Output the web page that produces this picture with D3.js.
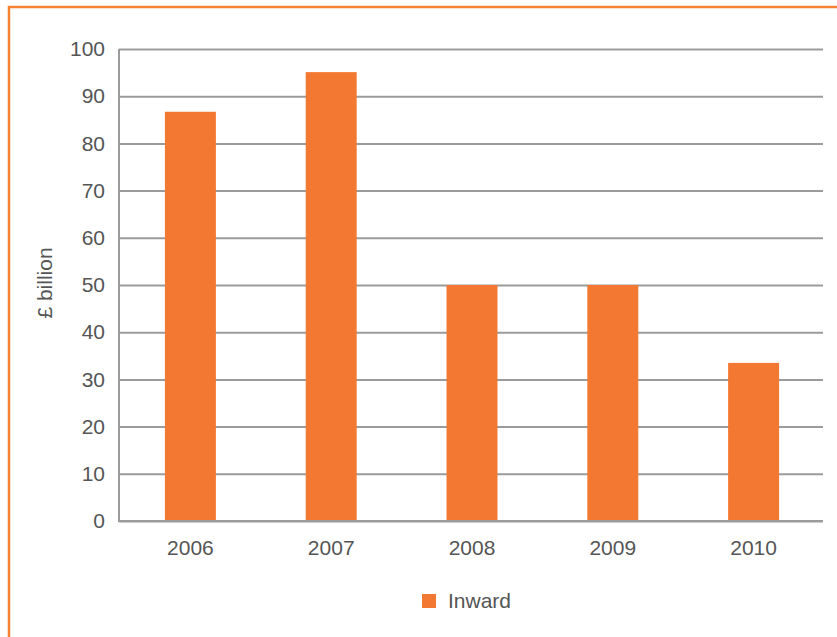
<!DOCTYPE html>
<html>
<head>
<meta charset="utf-8">
<script src="https://cdn.jsdelivr.net/npm/d3@7"></script>
<style>
  body { margin: 0; background: #fff; }
  svg text { font-family: "Liberation Sans", Arial, sans-serif; fill: #555; }
</style>
</head>
<body>
<div id="chart"></div>
<script>
const years = ["2006", "2007", "2008", "2009", "2010"]
const inward = [86.7, 95.1, 50, 50, 33.5]
const yTicks = [0, 10, 20, 30, 40, 50, 60, 70, 80, 90, 100]
const seriesName = "Inward"

const width = 837, height = 637
const margin = ({top: 49, right: 14, bottom: 116, left: 119})
const barColor = "#f37831"
const gridColor = "#9b9b9b"
const fontSize = 21

const svg = d3.select("#chart").append("svg")
    .attr("width", width).attr("height", height)

// frame (only top and left edges show in the picture)
svg.append("rect")
    .attr("x", 9).attr("y", 7)
    .attr("width", width + 20).attr("height", height + 20)
    .attr("fill", "none")
    .attr("stroke", "#f58233")
    .attr("stroke-width", 2.5)

const x = d3.scaleBand()
    .domain(years)
    .range([margin.left, width - margin.right])

const y = d3.scaleLinear()
    .domain([0, 100])
    .range([height - margin.bottom, margin.top])

// gridlines + y axis
const yAxis = g => g
    .attr("transform", `translate(${margin.left},0)`)
    .call(d3.axisLeft(y).tickValues(yTicks).tickSize(-(width - margin.left - margin.right)).tickPadding(14))
    .call(g => g.select(".domain").remove())
    .call(g => g.selectAll(".tick line").attr("stroke", gridColor).attr("stroke-width", 2))
    .call(g => g.selectAll(".tick text").attr("font-size", fontSize).attr("fill", "#555"))

svg.append("g").call(yAxis)

// left axis line
svg.append("line")
    .attr("x1", margin.left).attr("x2", margin.left)
    .attr("y1", y(100)).attr("y2", y(0) + 1)
    .attr("stroke", gridColor).attr("stroke-width", 2)

// bars
const barW = x.bandwidth() * 0.362
svg.append("g")
  .selectAll("rect")
  .data(years)
  .join("rect")
    .attr("x", (d) => x(d) + x.bandwidth() / 2 - barW / 2 + 1)
    .attr("y", (d, i) => y(inward[i]))
    .attr("width", barW)
    .attr("height", (d, i) => y(0) - y(inward[i]))
    .attr("fill", barColor)

// baseline drawn over bars
svg.append("line")
    .attr("x1", margin.left).attr("x2", width - margin.right)
    .attr("y1", y(0)).attr("y2", y(0))
    .attr("stroke", gridColor).attr("stroke-width", 2)

// x labels
const xAxis = g => g
    .attr("transform", `translate(1,${y(0)})`)
    .call(d3.axisBottom(x).tickSize(0).tickPadding(19))
    .call(g => g.select(".domain").remove())
    .call(g => g.selectAll(".tick text").attr("font-size", fontSize).attr("fill", "#555"))

svg.append("g").call(xAxis)

// y title
svg.append("text")
    .attr("transform", `translate(52,283) rotate(-90)`)
    .attr("text-anchor", "middle")
    .attr("font-size", fontSize)
    .text("£ billion")

// legend
const legend = svg.append("g").attr("transform", "translate(422,594)")
legend.append("rect").attr("width", 14).attr("height", 14).attr("fill", barColor)
legend.append("text").attr("x", 26).attr("y", 14).attr("font-size", fontSize).text(seriesName)
</script>
</body>
</html>
